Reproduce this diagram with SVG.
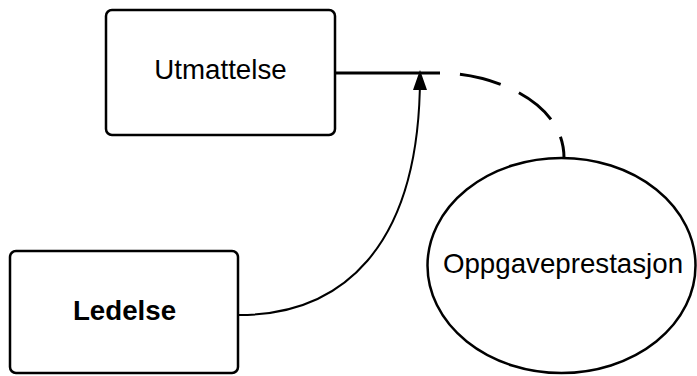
<svg xmlns="http://www.w3.org/2000/svg" width="697" height="376" viewBox="0 0 697 376">
<defs>
<style>
.box{fill:#fff;stroke:#000;stroke-width:2.5}
.lbl{font-family:"Liberation Sans",Arial,sans-serif;font-size:27.7px;fill:#000;text-anchor:middle}
.conn{fill:none;stroke:#000}
</style>
</defs>
<rect width="697" height="376" fill="#fff"/>
<g id="connectors">
<path class="conn" d="M335,73 L440,73" stroke-width="3"/>
<path class="conn" d="M440,73 C490,73 564,100 564,158" stroke-width="3" stroke-dasharray="42 20" stroke-dashoffset="42"/>
<path class="conn" d="M239,315 C340,315 420,250 420,76" stroke-width="2"/>
<path d="M420,70 L427,90 L413,90 Z" fill="#000"/>
</g>
<g id="utmattelse">
<rect class="box" x="106" y="10" width="229" height="125" rx="6"/>
<text class="lbl" x="220.5" y="79">Utmattelse</text>
</g>
<g id="ledelse">
<rect class="box" x="10" y="251" width="228" height="122" rx="6"/>
<text class="lbl" x="124.5" y="320" font-weight="bold">Ledelse</text>
</g>
<g id="oppgaveprestasjon">
<ellipse class="box" cx="561.5" cy="265.5" rx="134" ry="107.5" stroke-width="3"/>
<text class="lbl" x="563" y="273">Oppgaveprestasjon</text>
</g>
</svg>
